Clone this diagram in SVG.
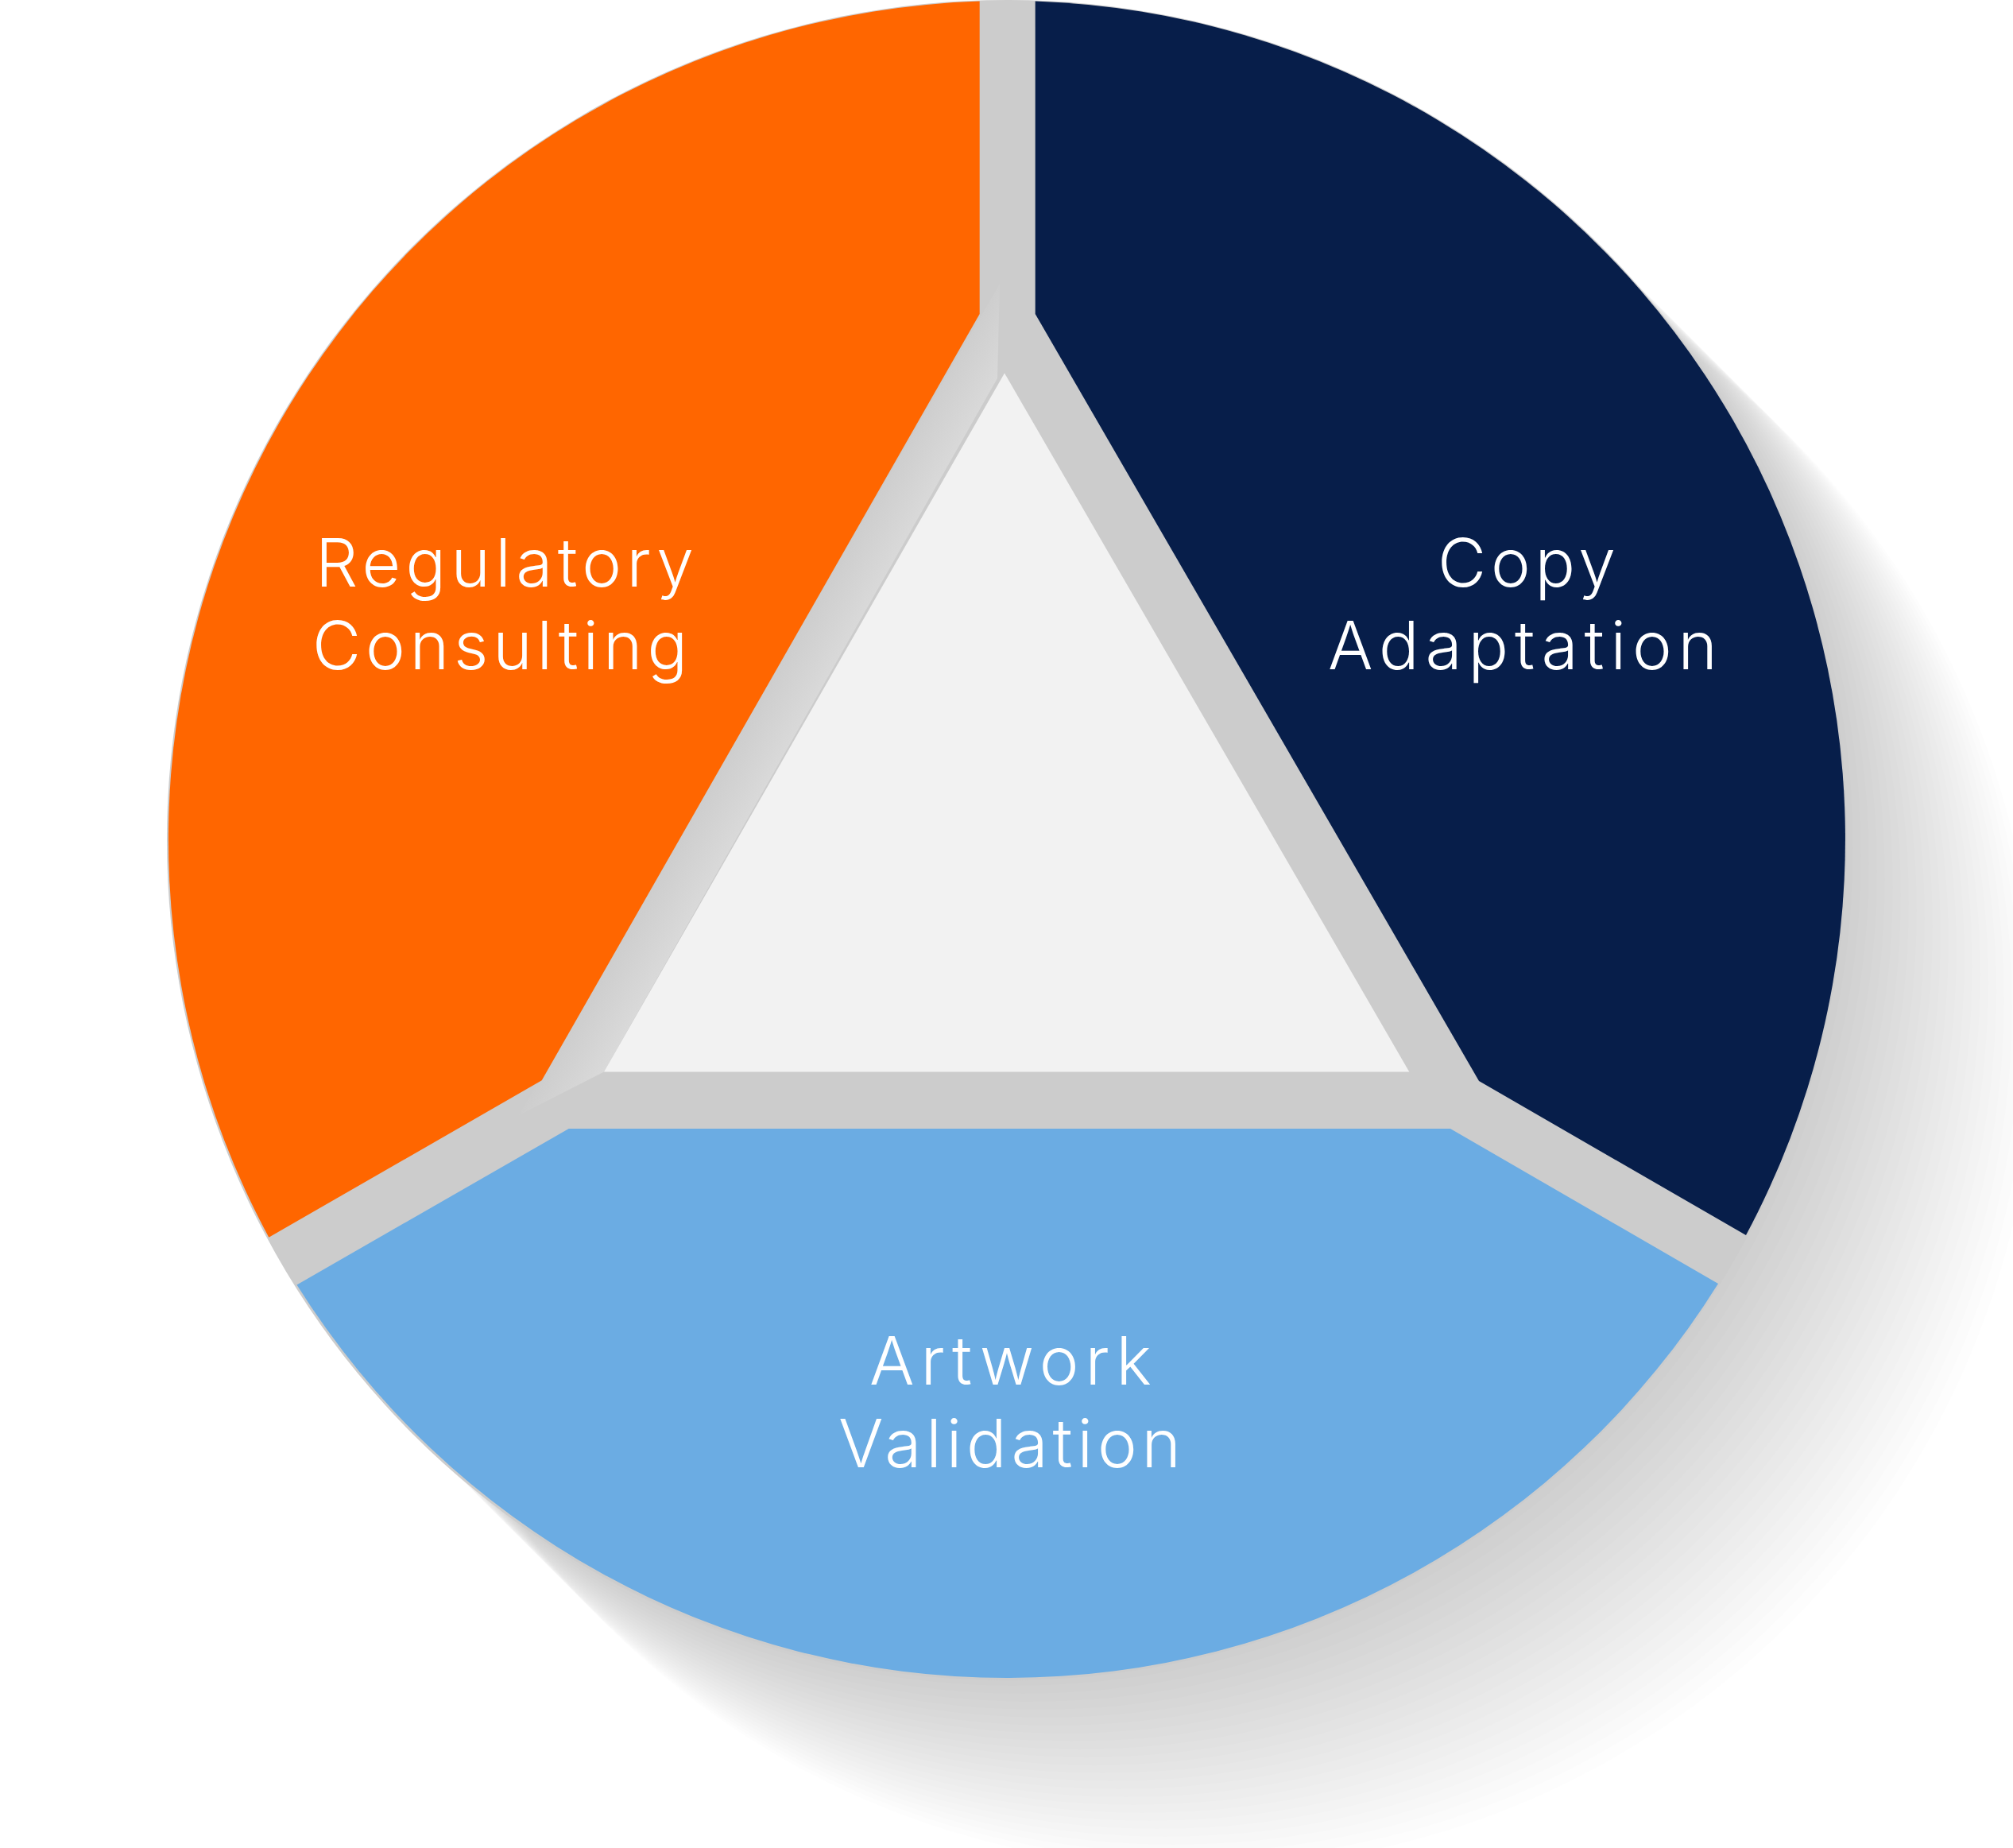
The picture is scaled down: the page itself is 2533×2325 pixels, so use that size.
<svg xmlns="http://www.w3.org/2000/svg" width="2533" height="2325" viewBox="0 0 2533 2325">
  <defs>
    <circle id="disc" cx="1267" cy="1056" r="1055"/>
    <linearGradient id="sheen" gradientUnits="userSpaceOnUse" x1="653" y1="1403" x2="709" y2="1435">
      <stop offset="0" stop-color="#CDCDCD"/>
      <stop offset="1" stop-color="#D9D9D9"/>
    </linearGradient>
    <style>
      .sh { fill: #000000; fill-opacity: 0.0092; }
      .label { font-family: "Inter", "Open Sans", "Liberation Sans", sans-serif; font-weight: 300; font-size: 84px; fill: #FFFFFF; }
    </style>
  </defs>
  <rect x="0" y="0" width="2533" height="2325" fill="#FFFFFF"/>

  <g id="long-shadow">
    <use href="#disc" class="sh" transform="translate(10,10)"/>
    <use href="#disc" class="sh" transform="translate(20,20)"/>
    <use href="#disc" class="sh" transform="translate(30,30)"/>
    <use href="#disc" class="sh" transform="translate(40,40)"/>
    <use href="#disc" class="sh" transform="translate(50,50)"/>
    <use href="#disc" class="sh" transform="translate(60,60)"/>
    <use href="#disc" class="sh" transform="translate(70,70)"/>
    <use href="#disc" class="sh" transform="translate(80,80)"/>
    <use href="#disc" class="sh" transform="translate(90,90)"/>
    <use href="#disc" class="sh" transform="translate(100,100)"/>
    <use href="#disc" class="sh" transform="translate(110,110)"/>
    <use href="#disc" class="sh" transform="translate(120,120)"/>
    <use href="#disc" class="sh" transform="translate(130,130)"/>
    <use href="#disc" class="sh" transform="translate(140,140)"/>
    <use href="#disc" class="sh" transform="translate(150,150)"/>
    <use href="#disc" class="sh" transform="translate(160,160)"/>
    <use href="#disc" class="sh" transform="translate(170,170)"/>
    <use href="#disc" class="sh" transform="translate(180,180)"/>
    <use href="#disc" class="sh" transform="translate(190,190)"/>
    <use href="#disc" class="sh" transform="translate(200,200)"/>
    <use href="#disc" class="sh" transform="translate(210,210)"/>
    <use href="#disc" class="sh" transform="translate(220,220)"/>
    <use href="#disc" class="sh" transform="translate(230,230)"/>
    <use href="#disc" class="sh" transform="translate(240,240)"/>
  </g>

  <g id="gray-base">
    <circle cx="1267" cy="1057" r="1057" fill="#CCCCCC"/>
    <polygon points="1258,357 1255,476 760,1348.5 653,1403" fill="url(#sheen)"/>
  </g>

  <g id="segment-regulatory">
    <path d="M1232.7,1.6 L1232.7,395 L681.7,1359.3 L338.3,1556.7 A1055,1055 0 0 1 1232.7,1.6 Z" fill="#FF6600"/>
    <text class="label">
      <tspan x="397" y="738" textLength="476" lengthAdjust="spacing">Regulatory</tspan>
      <tspan x="393" y="842" textLength="472" lengthAdjust="spacing">Consulting</tspan>
    </text>
  </g>

  <g id="segment-copy">
    <path d="M1302.7,1.6 L1302.7,395 L1861,1360 L2197,1554 A1055,1055 0 0 0 1302.7,1.6 Z" fill="#071E4A"/>
    <text class="label">
      <tspan x="1809" y="738" textLength="224" lengthAdjust="spacing">Copy</tspan>
      <tspan x="1671" y="842" textLength="490" lengthAdjust="spacing">Adaptation</tspan>
    </text>
  </g>

  <g id="segment-artwork">
    <path d="M715.7,1420 L1825,1420 L2162,1615 A1055,1055 0 0 1 373.5,1616.5 Z" fill="#6BACE3"/>
    <text class="label">
      <tspan x="1094" y="1742" textLength="355" lengthAdjust="spacing">Artwork</tspan>
      <tspan x="1055" y="1846" textLength="431" lengthAdjust="spacing">Validation</tspan>
    </text>
  </g>

  <g id="center-triangle">
    <polygon points="1264,469.5 1773.3,1348.5 760,1348.5" fill="#F2F2F2"/>
  </g>
</svg>
